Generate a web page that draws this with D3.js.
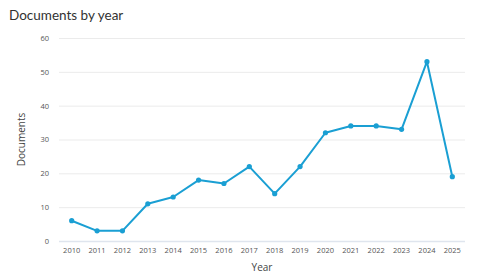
<!DOCTYPE html>
<html><head><meta charset="utf-8">
<script src="https://cdn.jsdelivr.net/npm/d3@7"></script>
<style>body{margin:0;background:#fff;}svg{display:block;font-family:"Open Sans",sans-serif;}</style>
</head><body>
<svg id="c" width="480" height="278"></svg>
<script>
const years = ["2010","2011","2012","2013","2014","2015","2016","2017","2018","2019","2020","2021","2022","2023","2024","2025"];
const documents = [6,3,3,11,13,18,17,22,14,22,32,34,34,33,53,19];
const yTicks = [0,10,20,30,40,50,60];

(function(){
const svg = d3.select("#c");
const mL = 59, mR = 465, mT = 38, mB = 241;
const x = d3.scaleBand().domain(years).range([mL, mR]);
const y = d3.scaleLinear().domain([0,60]).range([mB, mT]);

svg.append("text").attr("x",9).attr("y",20).attr("font-size",13.5).attr("fill","#323232")
  .style("font-family","Lato").text("Documents by year");

const gy = svg.append("g").attr("transform",`translate(${mL},0)`)
  .call(d3.axisLeft(y).tickValues(yTicks).tickSize(-(mR-mL)).tickPadding(10));
gy.select(".domain").remove();
gy.selectAll(".tick line").attr("stroke",d=>d===0?"#dfe5ee":"#ebebeb").attr("stroke-width",d=>d===0?1.5:1);
gy.selectAll(".tick text").attr("font-size",7.5).attr("fill","#555").style("font-family","Open Sans");

const gx = svg.append("g").attr("transform",`translate(0,${mB})`)
  .call(d3.axisBottom(x).tickSize(0).tickPadding(7));
gx.select(".domain").remove();
gx.selectAll(".tick text").attr("font-size",7.5).attr("fill","#555").style("font-family","Open Sans");

svg.append("text").attr("transform",`translate(25,${(mT+mB)/2}) rotate(-90)`).attr("text-anchor","middle")
  .attr("font-size",10).attr("fill","#444").text("Documents");
svg.append("text").attr("x",(mL+mR)/2).attr("y",271).attr("text-anchor","middle")
  .attr("font-size",10).attr("fill","#444").text("Year");

const cx = d => x(d) + x.bandwidth()/2;
svg.append("path").datum(documents)
  .attr("fill","none").attr("stroke","#1a9fd3").attr("stroke-width",2).attr("stroke-linejoin","round")
  .attr("d", d3.line().x((d,i)=>cx(years[i])).y(d=>y(d)));
svg.selectAll("circle.p").data(documents).enter().append("circle").attr("class","p")
  .attr("cx",(d,i)=>cx(years[i])).attr("cy",d=>y(d)).attr("r",2.6).attr("fill","#1a9fd3");
})();
</script>
</body></html>
